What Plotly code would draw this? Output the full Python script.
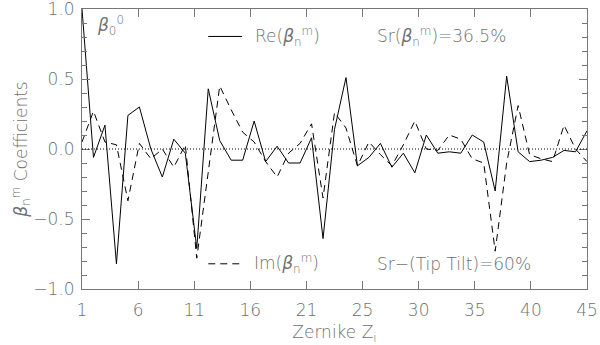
import plotly.graph_objects as go

# Zernike index
zernike_i = list(range(1, 46))

re_beta = [1.00, -0.06, 0.17, -0.82, 0.24, 0.30, 0.00, -0.20, 0.07, -0.03,
           -0.71, 0.43, 0.06, -0.08, -0.08, 0.20, -0.09, 0.02, -0.10, -0.10,
           0.08, -0.64, 0.14, 0.51, -0.12, -0.06, 0.04, -0.13, -0.03, -0.17,
           0.10, -0.03, -0.02, -0.03, 0.10, 0.05, -0.30, 0.52, -0.02, -0.09,
           -0.08, -0.06, -0.01, -0.02, 0.13]

im_beta = [0.05, 0.27, 0.05, 0.03, -0.37, 0.04, -0.07, 0.00, -0.13, 0.03,
           -0.78, -0.15, 0.45, 0.28, 0.12, 0.05, -0.09, -0.20, -0.03, 0.04,
           0.18, -0.35, 0.26, 0.15, -0.12, 0.05, -0.04, -0.12, 0.03, 0.20,
           0.00, -0.01, 0.10, 0.07, -0.07, -0.10, -0.73, -0.10, 0.31, -0.04,
           -0.07, -0.09, 0.17, 0.00, -0.09]

x_tick_labels = ['1', '6', '11', '16', '21', '25', '30', '35', '40', '45']
y_tick_values = [-1.0, -0.5, 0.0, 0.5, 1.0]

# ticks evenly spread between 1 and 45, labels rounded (IDL style)
x_tick_pos = [1 + 44 * k / (len(x_tick_labels) - 1) for k in range(len(x_tick_labels))]

beta = '<i>β</i><sub>n</sub><sup>m</sup>'
font_color = '#707070'
axis_color = '#777777'
fsize = 17
text_font = dict(family='DejaVu Sans', size=fsize, color=font_color, weight=200)
dash_style = '7px,5px'

fig = go.Figure()

fig.add_trace(go.Scatter(
    x=zernike_i, y=re_beta, mode='lines', name='Re',
    line=dict(color='black', width=1), showlegend=False
))
fig.add_trace(go.Scatter(
    x=zernike_i, y=im_beta, mode='lines', name='Im',
    line=dict(color='black', width=1, dash=dash_style), showlegend=False
))

fig.add_hline(y=0, line=dict(color='black', width=1, dash='1px,2px'))

# legend samples drawn by hand, like the IDL plot
fig.add_shape(type='line', xref='paper', yref='paper', x0=0.250, x1=0.317, y0=0.902, y1=0.902,
              line=dict(color='black', width=1))
fig.add_shape(type='line', xref='paper', yref='paper', x0=0.250, x1=0.313, y0=0.090, y1=0.090,
              line=dict(color='black', width=1, dash=dash_style))

labels = [
    (0.026, 0.940, '<i>β</i><sub>0</sub><sup>0</sup>'),
    (0.338, 0.902, f'Re({beta})'),
    (0.580, 0.902, f'Sr({beta})=36.5%'),
    (0.336, 0.090, f'Im({beta})'),
    (0.580, 0.090, 'Sr−(Tip Tilt)=60%'),
]
for lx, ly, txt in labels:
    fig.add_annotation(x=lx, y=ly, xref='paper', yref='paper', text=txt, showarrow=False,
                       xanchor='left', yanchor='middle', font=text_font)

axis_common = dict(
    showgrid=False, zeroline=False, automargin=False,
    showline=True, linecolor=axis_color, linewidth=1, mirror='allticks',
    ticks='inside', tickcolor=axis_color, ticklen=8,
    tickfont=text_font, ticklabeloverflow='allow',
)

fig.update_xaxes(
    range=[1, 45], tickmode='array', tickvals=x_tick_pos, ticktext=x_tick_labels,
    ticklabelstandoff=6,
    title=dict(text='Zernike Z<sub>i</sub>', font=text_font, standoff=8),
    **axis_common
)
fig.update_yaxes(
    range=[-1, 1], tickmode='array', tickvals=y_tick_values, tickformat='.1f',
    ticklabelstandoff=3,
    minor=dict(dtick=0.1, ticks='inside', ticklen=5, tickcolor=axis_color),
    title=dict(text=f'{beta} Coefficients', font=text_font, standoff=1),
    **axis_common
)

fig.update_layout(
    width=600, height=345,
    margin=dict(l=82, r=13, t=9, b=56),
    plot_bgcolor='white', paper_bgcolor='white',
    font=text_font,
    showlegend=False,
)

# the page body has a default 8px margin; drop it so the figure sits at the window corner
fig.write_html('out.html', config={'displayModeBar': False},
               post_script="document.body.style.margin='0';")
